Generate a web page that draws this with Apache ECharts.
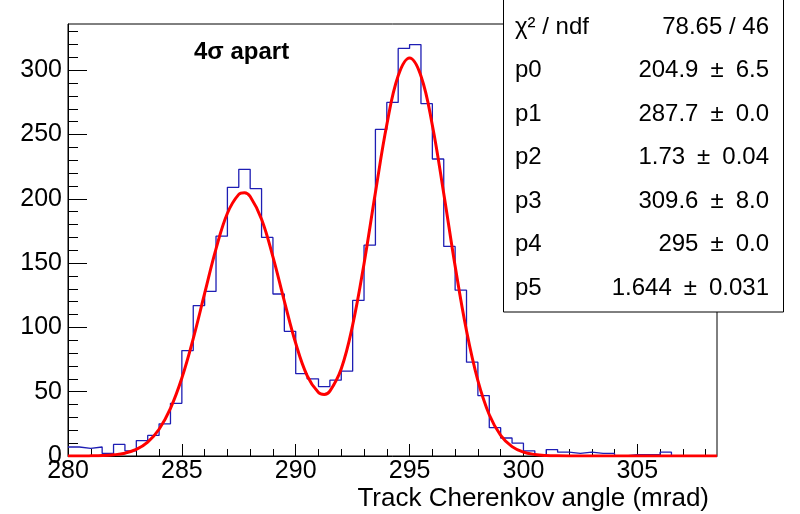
<!DOCTYPE html>
<html>
<head>
<meta charset="utf-8">
<script src="https://cdn.jsdelivr.net/npm/echarts@6/dist/echarts.min.js"></script>
<style>
    html, body { margin: 0; padding: 0; background: #fff; }
    #chart { width: 800px; height: 514px; }
</style>
</head>
<body>
<div id="chart"></div>
<script>
// histogram: 0.5 mrad bins starting at 280
var binStart = 280;
var binWidth = 0.5;
var counts = [7, 6, 7, 2, 9, 4, 12, 16, 25, 41, 82, 117, 128, 171, 209, 223, 208, 170, 126, 97,
    64, 60, 54, 59, 66, 121, 164, 254, 275, 317, 320, 274, 231, 163, 129, 73, 47, 22, 14, 10,
    4, 1, 5, 3, 2, 3, 2, 2, 0, 1, 1, 1, 3, 0, 0, 0, 0];

// red fit curve
var fitX = [280, 280.5, 281, 281.5, 282, 282.5, 283, 283.5, 284, 284.5, 285, 285.5, 286, 286.5, 287, 287.5, 287.75,
    288, 288.5, 289, 289.5, 290, 290.5, 291, 291.25, 291.5, 292, 292.5, 293, 293.5, 294, 294.5, 295, 295.5,
    296, 296.5, 297, 297.5, 298, 298.5, 299, 299.5, 300, 300.5, 301, 301.5, 302, 308.5];
var fitY = [0, 0, 0.1, 0.3, 0.9, 2.2, 5.1, 10.8, 20.8, 37.0, 60.6, 91.3, 126.4, 161.1, 188.8, 203.5, 204.8,
    201.8, 184.2, 154.9, 120.5, 87.7, 62.6, 49.3, 47.9, 50.5, 67.9, 101.8, 149.6, 204.9, 257.6, 295.7, 309.6, 295.6,
    257.3, 204.2, 147.7, 97.4, 58.6, 32.1, 16.1, 7.3, 3.0, 1.2, 0.4, 0.1, 0, 0];

var xMajorTicks = [280, 285, 290, 295, 300, 305];
var xMinorTicks = [281, 282, 283, 284, 286, 287, 288, 289, 291, 292, 293, 294, 296, 297, 298, 299,
    301, 302, 303, 304, 306, 307, 308];
var yMajorTicks = [0, 50, 100, 150, 200, 250, 300];
var yMinorTicks = [10, 20, 30, 40, 60, 70, 80, 90, 110, 120, 130, 140, 160, 170, 180, 190,
    210, 220, 230, 240, 260, 270, 280, 290, 310, 320, 330];

var statNames = ['χ² / ndf', 'p0', 'p1', 'p2', 'p3', 'p4', 'p5'];
var statValues = ['78.65 / 46', '204.9 ± 6.5', '287.7 ± 0.0', '1.73 ± 0.04', '309.6 ± 8.0', '295 ± 0.0', '1.644 ± 0.031'];

var xMin = 280, xMax = 308.5, yMax = 336;
var font = '"Liberation Sans", Arial, sans-serif';

var histData = counts.map(function (c, i) {
    return [binStart + i * binWidth, c];
});
histData.push([binStart + counts.length * binWidth, counts[counts.length - 1]]);

var fitData = fitX.map(function (x, i) {
    return [x, fitY[i]];
});

// stats box (ROOT puts a bit more room around the ± sign)
var statsGraphics = [{
    type: 'rect',
    z: 100,
    shape: {x: 503.5, y: -5, width: 280, height: 317},
    style: {fill: '#fff', stroke: '#000', lineWidth: 1}
}];
statNames.forEach(function (name, i) {
    var y = 27 + i * 43.5;
    statsGraphics.push({
        type: 'text', z: 101, x: 515, y: y,
        style: {text: name, font: '24px ' + font, fill: '#000', align: 'left', verticalAlign: 'middle'}
    });
    statsGraphics.push({
        type: 'text', z: 101, x: 769, y: y,
        style: {
            text: statValues[i].replace(' ± ', '\u2002±\u2002'),
            font: '24px ' + font, fill: '#000', align: 'right', verticalAlign: 'middle'
        }
    });
});

var chart = echarts.init(document.getElementById('chart'));
chart.setOption({
    animation: false,
    backgroundColor: '#fff',
    grid: {
        left: 68, right: 83, top: 24, bottom: 58,
        show: true, borderColor: '#000', borderWidth: 1
    },
    xAxis: [{
        type: 'value', min: xMin, max: xMax,
        axisLine: {show: true, lineStyle: {color: '#000', width: 1}},
        axisTick: {inside: true, length: 12, customValues: xMajorTicks, lineStyle: {color: '#000'}},
        axisLabel: {customValues: xMajorTicks, color: '#000', fontSize: 25, fontFamily: font, margin: 3},
        splitLine: {show: false}
    }, {
        type: 'value', min: xMin, max: xMax, position: 'bottom',
        axisLine: {show: false},
        axisTick: {inside: true, length: 7, customValues: xMinorTicks, lineStyle: {color: '#000'}},
        axisLabel: {show: false},
        splitLine: {show: false}
    }],
    yAxis: [{
        type: 'value', min: 0, max: yMax,
        axisLine: {show: true, lineStyle: {color: '#000', width: 1}},
        axisTick: {inside: true, length: 19, customValues: yMajorTicks, lineStyle: {color: '#000'}},
        axisLabel: {customValues: yMajorTicks, color: '#000', fontSize: 25, fontFamily: font, margin: 6},
        splitLine: {show: false}
    }, {
        type: 'value', min: 0, max: yMax, position: 'left',
        axisLine: {show: false},
        axisTick: {inside: true, length: 10, customValues: yMinorTicks, lineStyle: {color: '#000'}},
        axisLabel: {show: false},
        splitLine: {show: false}
    }],
    graphic: [{
        type: 'text', x: 709, y: 499,
        style: {text: 'Track Cherenkov angle (mrad)', font: '26px ' + font, fill: '#000', align: 'right', verticalAlign: 'middle'}
    }, {
        type: 'text', x: 194, y: 52,
        style: {text: '4σ apart', font: 'bold 24px ' + font, fill: '#000', align: 'left', verticalAlign: 'middle'}
    }].concat(statsGraphics),
    series: [{
        type: 'line',
        data: histData,
        step: 'end',
        showSymbol: false,
        lineStyle: {color: '#1e1eb4', width: 1.3},
        z: 2
    }, {
        type: 'line',
        data: fitData,
        smooth: 0.4,
        showSymbol: false,
        lineStyle: {color: '#ff0000', width: 3},
        z: 3
    }]
});
</script>
</body>
</html>
